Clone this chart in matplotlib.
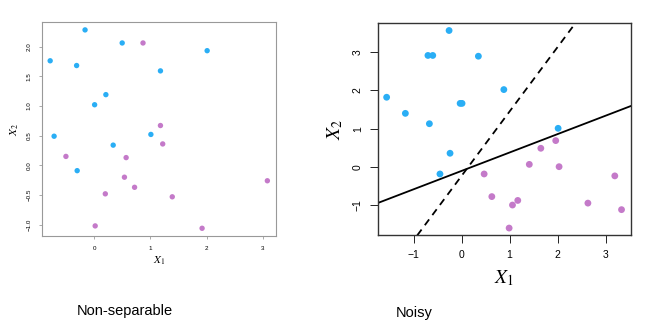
import matplotlib
matplotlib.use("Agg")
import matplotlib.pyplot as plt
import numpy as np

plt.rcParams['font.family'] = ['Liberation Sans', 'DejaVu Sans']
plt.rcParams['mathtext.fontset'] = 'stix'

blue = '#2AAEF5'
purple = '#C47AC9'

# Left panel: Non-separable
ns_blue_x = [-0.16, -0.78, -0.31, 0.50, 2.01, 1.18, 0.21, 0.01, -0.71, 0.34, 1.01, -0.30]
ns_blue_y = [2.28, 1.76, 1.68, 2.06, 1.93, 1.59, 1.19, 1.02, 0.49, 0.34, 0.52, -0.09]
ns_purple_x = [0.87, 1.18, 1.22, -0.50, 0.57, 0.54, 0.72, 0.20, 1.39, 3.08, 0.02, 1.92]
ns_purple_y = [2.06, 0.67, 0.36, 0.15, 0.13, -0.20, -0.37, -0.48, -0.53, -0.26, -1.02, -1.06]
ns_xticks = [0, 1, 2, 3]
ns_yticks = [-1.0, -0.5, 0.0, 0.5, 1.0, 1.5, 2.0]

# Right panel: Noisy
no_blue_x = [-0.26, -0.70, -0.60, 0.35, 0.88, -1.56, -1.17, -0.67, -0.03, 0.01, 2.01, -0.24, -0.45]
no_blue_y = [3.56, 2.91, 2.91, 2.89, 2.02, 1.82, 1.40, 1.13, 1.66, 1.66, 1.01, 0.36, -0.18]
no_purple_x = [0.47, 1.41, 1.65, 1.96, 2.03, 3.19, 0.63, 1.06, 1.17, 0.99, 2.63, 3.33]
no_purple_y = [-0.18, 0.07, 0.49, 0.69, 0.01, -0.23, -0.77, -0.99, -0.87, -1.59, -0.94, -1.11]
no_xticks = [-1, 0, 1, 2, 3]
no_yticks = [-1, 0, 1, 2, 3]
# hyperplanes: intercept, slope
line_solid = (-0.10, 0.48)
line_dashed = (-0.23, 1.68)

fig = plt.figure(figsize=(6.52, 3.31), dpi=100)

# Left axes
ax1 = fig.add_axes([0.064, 0.287, 0.359, 0.646])
ax1.scatter(ns_blue_x, ns_blue_y, s=15, color=blue, edgecolors='none', zorder=3)
ax1.scatter(ns_purple_x, ns_purple_y, s=15, color=purple, edgecolors='none', zorder=3)
ax1.set_xlim(-0.93, 3.23)
ax1.set_ylim(-1.19, 2.41)
ax1.set_xticks(ns_xticks)
ax1.set_xticklabels([str(t) for t in ns_xticks])
ax1.set_yticks(ns_yticks)
ax1.set_yticklabels([f'{t:.1f}'.replace('-', '\u2212') for t in ns_yticks], rotation=90, va='center')
ax1.tick_params(axis='both', labelsize=4.5, length=2.5, width=0.5, color='#888888', pad=5)
for sp in ax1.spines.values():
    sp.set_color('#999999')
    sp.set_linewidth(0.8)
ax1.set_xlabel('$X_1$', fontsize=8, labelpad=2)
ax1.set_ylabel('$X_2$', fontsize=8, labelpad=4)

# Right axes
ax2 = fig.add_axes([0.579, 0.289, 0.389, 0.642])
ax2.scatter(no_blue_x, no_blue_y, s=24, color=blue, edgecolors='none', zorder=3)
ax2.scatter(no_purple_x, no_purple_y, s=24, color=purple, edgecolors='none', zorder=3)
ax2.axline((0, line_solid[0]), slope=line_solid[1], color='black', lw=1.3)
ax2.axline((0, line_dashed[0]), slope=line_dashed[1], color='black', lw=1.3, ls=(0, (4, 3)))
ax2.set_xlim(-1.75, 3.53)
ax2.set_ylim(-1.78, 3.76)
ax2.set_xticks(no_xticks)
ax2.set_xticklabels([str(t).replace('-', '\u2212') for t in no_xticks])
ax2.set_yticks(no_yticks)
ax2.set_yticklabels([str(t).replace('-', '\u2212') for t in no_yticks], rotation=90, va='center')
ax2.tick_params(axis='both', labelsize=7.5, length=5.5, width=0.6, pad=5)
for sp in ax2.spines.values():
    sp.set_color('#333333')
    sp.set_linewidth(1.0)
ax2.set_xlabel('$X_1$', fontsize=14, labelpad=6)
ax2.set_ylabel('$X_2$', fontsize=14, labelpad=6)

fig.text(124.5 / 652, 1 - 311.5 / 331, 'Non-separable', ha='center', va='center', fontsize=10.5)
fig.text(413.7 / 652, 1 - 313 / 331, 'Noisy', ha='center', va='center', fontsize=10.5)

fig.savefig('out.png', dpi=100)
